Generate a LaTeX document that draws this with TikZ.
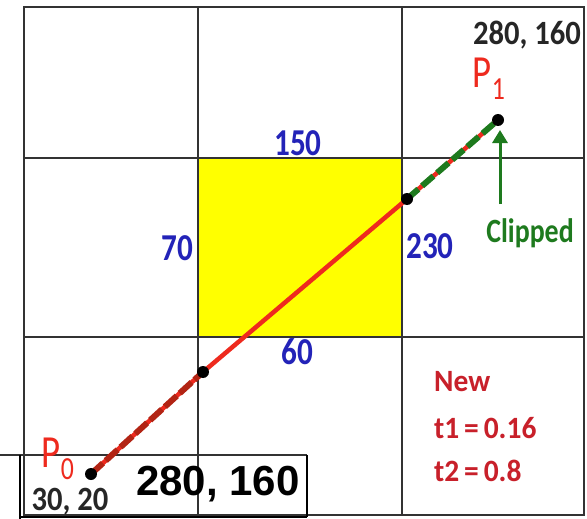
\documentclass[tikz,border=0pt]{standalone}
\usepackage{fontspec}
\setmainfont{Carlito}
\newfontfamily\arialf{Liberation Sans}
\usetikzlibrary{arrows.meta}
\definecolor{gridc}{HTML}{333333}
\definecolor{numblue}{HTML}{2323B8}
\definecolor{clipgreen}{HTML}{1E7A1E}
\definecolor{newred}{HTML}{C8202A}
\definecolor{linered}{HTML}{EE2A1E}
\definecolor{dashbrown}{HTML}{B22414}
\definecolor{boxyellow}{HTML}{FFFF00}
\tikzset{
  gridline/.style={draw=gridc,line width=2.2pt},
  numlbl/.style={text=numblue,font=\bfseries\fontsize{38}{38}\selectfont,inner sep=0pt,xscale=0.82},
  ptlbl/.style={text=linered,font=\fontsize{46}{46}\selectfont,inner sep=0pt,xscale=0.8},
  coordlbl/.style={text=black!85,font=\bfseries\fontsize{34}{34}\selectfont,inner sep=0pt,xscale=0.9},
  newlbl/.style={text=newred,font=\bfseries\fontsize{31}{31}\selectfont,inner sep=0pt,anchor=west,xscale=0.95},
  dotc/.style={circle,fill=black,inner sep=0pt,minimum size=12pt},
  redline/.style={draw=linered,line width=4.5pt},
  greendash/.style={draw=clipgreen,line width=6pt,dash pattern=on 15pt off 5pt},
  browndash/.style={draw=dashbrown,line width=6pt,dash pattern=on 16pt off 4pt},
}
\begin{document}
\begin{tikzpicture}[x=1pt,y=-1pt]
\useasboundingbox (0,0) rectangle (587,519);
\fill[white] (0,0) rectangle (587,519);
% yellow window
\fill[boxyellow] (198,158) rectangle (402,337);
% grid
\draw[gridline] (24,7) rectangle (584,515);
\draw[gridline] (198,7) -- (198,515);
\draw[gridline] (402,7) -- (402,515);
\draw[gridline] (24,158) -- (584,158);
\draw[gridline] (24,337) -- (584,337);
% overlay label box
\draw[draw=gridc,line width=1.5pt] (0,455) -- (307,455);
\draw[draw=black,line width=1.5pt] (20,455) -- (20,519);
\draw[draw=black,line width=1.5pt] (307,455) -- (307,517);
\draw[draw=black,line width=2pt] (20,517) -- (307,517);
% points
\coordinate (p0) at (91,474);
\coordinate (i1) at (203,372);
\coordinate (i2) at (407,199);
\coordinate (p1) at (498,120);
\draw[redline] (p0) -- (i1) -- (i2) -- (p1);
\draw[browndash] (p0) -- (i1);
\draw[greendash] (i2) -- (p1);
\node[dotc] (d0) at (p0) {};
\node[dotc] (d1) at (i1) {};
\node[dotc] (d2) at (i2) {};
\node[dotc] (d3) at (p1) {};
% labels
\node[ptlbl] (P1) at (489,79) {P\textsubscript{1}};
\node[ptlbl] (P0) at (58,459) {P\textsubscript{0}};
\node[coordlbl] (c1) at (527,35) {280, 160};
\node[coordlbl] (c0) at (70,502) {30, 20};
\node[numlbl] (n150) at (298,143) {150};
\node[numlbl] (n70) at (177,248) {70};
\node[numlbl] (n230) at (430,246) {230};
\node[numlbl] (n60) at (297,352) {60};
\node[text=clipgreen,font=\bfseries\fontsize{34}{34}\selectfont,inner sep=0pt,xscale=0.82] (clip) at (530,233) {Clipped};
\coordinate (arrS) at (500,204);
\coordinate (arrE) at (500,130);
\draw[draw=clipgreen,line width=3pt,-{Triangle[length=13pt,width=15pt]}] (arrS) -- (arrE);
\node[newlbl] (new) at (434,382) {New};
\node[newlbl] (t1) at (434,428) {t1\,=\,0.16};
\node[newlbl] (t2) at (434,471) {t2\,=\,0.8};
\node[inner sep=0pt,font=\arialf\bfseries\fontsize{42}{42}\selectfont] (big) at (218,484) {280, 160};
\end{tikzpicture}
\end{document}
